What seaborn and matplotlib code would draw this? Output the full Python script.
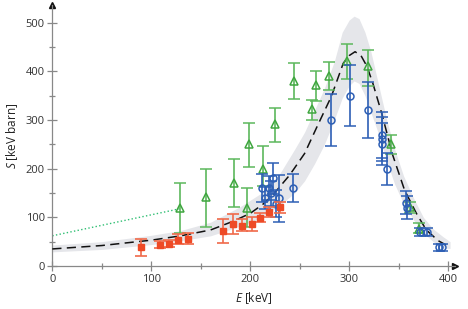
import numpy as np
import pandas as pd
import matplotlib
matplotlib.use("Agg")
import matplotlib.pyplot as plt
import seaborn as sns

# --- data ---
# red squares
E_red = [90, 109, 118, 127, 137, 173, 183, 192, 202, 210, 219, 230]
S_red = [38, 44, 46, 54, 56, 71, 86, 83, 86, 99, 111, 121]
lo_red = [20, 36, 38, 46, 45, 47, 66, 72, 72, 90, 100, 108]
hi_red = [55, 52, 53, 65, 68, 97, 106, 96, 100, 108, 122, 132]

# green triangles
E_grn = [129, 155, 184, 197, 199, 213, 225, 244, 262, 267, 280, 298, 319, 342, 362, 371]
S_grn = [120, 141, 171, 120, 251, 200, 291, 380, 322, 372, 390, 421, 411, 251, 122, 76]
lo_grn = [67, 80, 122, 81, 204, 165, 255, 343, 300, 339, 361, 383, 370, 229, 108, 67]
hi_grn = [170, 199, 219, 160, 293, 247, 324, 416, 340, 401, 418, 455, 444, 270, 132, 88]

# blue circles
E_blu = [212, 215, 219, 221, 223, 226, 229, 243, 282, 301, 319, 333, 333, 333, 338, 357, 358, 372, 379, 391, 394]
S_blu = [160, 140, 160, 149, 180, 128, 139, 160, 300, 350, 320, 269, 260, 250, 199, 130, 120, 70, 70, 38, 38]
err_blu = [28, 22, 25, 25, 32, 28, 48, 28, 53, 63, 57, 48, 45, 43, 33, 23, 23, 9, 9, 7, 7]

# dashed fit curve
E_fit = [0, 50, 100, 130, 160, 183, 200, 213, 223, 240, 255, 268, 282, 294, 300, 306,
         312, 318, 324, 333, 344, 356, 368, 378, 390, 398]
S_fit = [35, 42, 53, 62, 74, 92, 108, 127, 146, 187, 231, 288, 348, 416, 432, 440,
         432, 410, 375, 313, 228, 156, 108, 74, 52, 43]

# grey uncertainty band
E_band = [0, 50, 100, 130, 160, 190, 210, 230, 245, 255, 265, 275, 285, 293, 300, 305,
          310, 316, 322, 330, 338, 346, 355, 365, 375, 385, 395, 402]
S_band_lo = [29, 34, 44, 52, 62, 82, 98, 125, 150, 175, 210, 250, 300, 345, 370, 380,
             375, 350, 315, 270, 215, 168, 128, 95, 68, 50, 37, 36]
S_band_hi = [43, 50, 63, 73, 90, 122, 148, 190, 240, 275, 320, 365, 420, 480, 505, 513,
             508, 480, 440, 370, 300, 240, 185, 140, 100, 76, 60, 50]

# dotted green line
E_dot = [0, 130]
S_dot = [62, 118]

RED = "#ee4a26"
GREEN = "#3fa63f"
BLUE = "#2d5fb5"

sns.set_style("ticks")
plt.rcParams["font.family"] = ["Open Sans", "DejaVu Sans"]
plt.rcParams["mathtext.fontset"] = "custom"
plt.rcParams["mathtext.it"] = "Open Sans:italic"
plt.rcParams["mathtext.rm"] = "Open Sans"

fig = plt.figure(figsize=(4.68, 3.09), dpi=100)
ax = fig.add_axes([0.1118, 0.1392, 0.8604, 0.8447])

ax.fill_between(E_band, S_band_lo, S_band_hi, color="#e5e6ea", lw=0, zorder=1)
sns.lineplot(x=E_dot, y=S_dot, ax=ax, color="#2fbf73", lw=1.0, linestyle=":", zorder=2)
sns.lineplot(x=E_fit, y=S_fit, ax=ax, color="#111111", lw=1.1, sort=False,
             dashes=False, zorder=5).lines[-1].set_dashes((6, 3.5))

ax.errorbar(E_grn, S_grn,
            yerr=[np.array(S_grn) - np.array(lo_grn), np.array(hi_grn) - np.array(S_grn)],
            fmt="^", ms=6, mfc="none", mec=GREEN, mew=1.1, ecolor="#5cb85c",
            elinewidth=1.2, capsize=4, capthick=1.2, zorder=6)
ax.errorbar(E_blu, S_blu, yerr=err_blu,
            fmt="o", ms=5, mfc="none", mec=BLUE, mew=1.1, ecolor=BLUE,
            elinewidth=1.2, capsize=4, capthick=1.2, zorder=7)
ax.errorbar(E_red, S_red,
            yerr=[np.array(S_red) - np.array(lo_red), np.array(hi_red) - np.array(S_red)],
            fmt="s", ms=5, mfc=RED, mec=RED, ecolor="#f06a4a",
            elinewidth=1.2, capsize=4, capthick=1.2, zorder=8)

ax.set_xlim(0, 407)
ax.set_ylim(0, 536)
ax.set_xticks([0, 100, 200, 300, 400])
ax.set_xticks([50, 150, 250, 350], minor=True)
ax.set_yticks([0, 100, 200, 300, 400, 500])
ax.set_yticks([50, 150, 250, 350, 450], minor=True)

sns.despine(ax=ax)
for s in ["left", "bottom"]:
    ax.spines[s].set_color("#888888")
    ax.spines[s].set_linewidth(0.9)
ax.tick_params(which="major", direction="inout", length=7, width=0.9, color="#888888",
               labelsize=8, labelcolor="#333333", pad=2)
ax.tick_params(which="minor", direction="inout", length=5, width=0.9, color="#888888")

ax.plot(1, 0, ">", color="#111111", ms=4, transform=ax.get_yaxis_transform(), clip_on=False)
ax.plot(0, 1, "^", color="#111111", ms=4, transform=ax.get_xaxis_transform(), clip_on=False)

ax.set_xlabel("$E$ [keV]", fontsize=8.5, color="#222222", labelpad=4)
ax.set_ylabel("$S$ [keV barn]", fontsize=8.5, color="#222222", labelpad=4)

fig.savefig("out.png", dpi=100)
